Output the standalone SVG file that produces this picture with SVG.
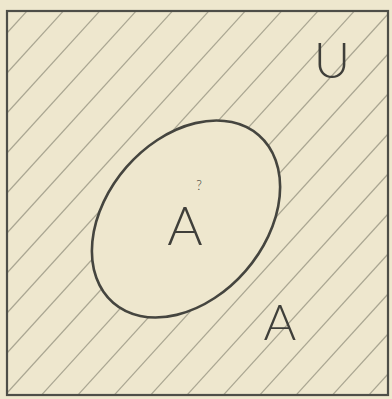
<svg xmlns="http://www.w3.org/2000/svg" width="392" height="399" viewBox="0 0 392 399">
<style>
.hatch{stroke:#aaa692;stroke-width:1.2;fill:none}
.label{font-family:"Lato","Liberation Sans",sans-serif;font-weight:300;fill:#3f3f3a}
</style>
<defs>
<clipPath id="sq"><rect x="7" y="11" width="381" height="384"/></clipPath>
<mask id="outside">
<rect x="0" y="0" width="392" height="399" fill="white"/>
<ellipse cx="186" cy="219" rx="111" ry="79" transform="rotate(-49 186 219)" fill="black"/>
</mask>
</defs>
<rect x="0" y="0" width="392" height="399" fill="#eee7ce"/>
<g id="hatching" clip-path="url(#sq)" mask="url(#outside)">
<line class="hatch" x1="7" y1="33" x2="388" y2="-386"/>
<line class="hatch" x1="7" y1="73" x2="388" y2="-346"/>
<line class="hatch" x1="7" y1="113" x2="388" y2="-306"/>
<line class="hatch" x1="7" y1="153" x2="388" y2="-266"/>
<line class="hatch" x1="7" y1="193" x2="388" y2="-226"/>
<line class="hatch" x1="7" y1="233" x2="388" y2="-186"/>
<line class="hatch" x1="7" y1="273" x2="388" y2="-146"/>
<line class="hatch" x1="7" y1="313" x2="388" y2="-106"/>
<line class="hatch" x1="7" y1="353" x2="388" y2="-66"/>
<line class="hatch" x1="7" y1="393" x2="388" y2="-26"/>
<line class="hatch" x1="7" y1="433" x2="388" y2="14"/>
<line class="hatch" x1="7" y1="473" x2="388" y2="54"/>
<line class="hatch" x1="7" y1="513" x2="388" y2="94"/>
<line class="hatch" x1="7" y1="553" x2="388" y2="134"/>
<line class="hatch" x1="7" y1="593" x2="388" y2="174"/>
<line class="hatch" x1="7" y1="633" x2="388" y2="214"/>
<line class="hatch" x1="7" y1="673" x2="388" y2="254"/>
<line class="hatch" x1="7" y1="713" x2="388" y2="294"/>
<line class="hatch" x1="7" y1="753" x2="388" y2="334"/>
<line class="hatch" x1="7" y1="793" x2="388" y2="374"/>
</g>
<g id="universe">
<rect x="7" y="11" width="381" height="384" fill="none" stroke="#4e4e48" stroke-width="2.2"/>
<text class="label" x="332" y="78" font-size="50" text-anchor="middle">U</text>
</g>
<g id="setA">
<ellipse cx="186" cy="219" rx="111" ry="79" transform="rotate(-49 186 219)" fill="none" stroke="#45453f" stroke-width="2.6"/>
<text class="label" x="185" y="245" font-size="54" text-anchor="middle">A</text>
<text class="label" x="199" y="190" font-size="13" text-anchor="middle">?</text>
</g>
<g id="complement">
<text class="label" x="280" y="340" font-size="50" text-anchor="middle">A</text>
</g>
</svg>
